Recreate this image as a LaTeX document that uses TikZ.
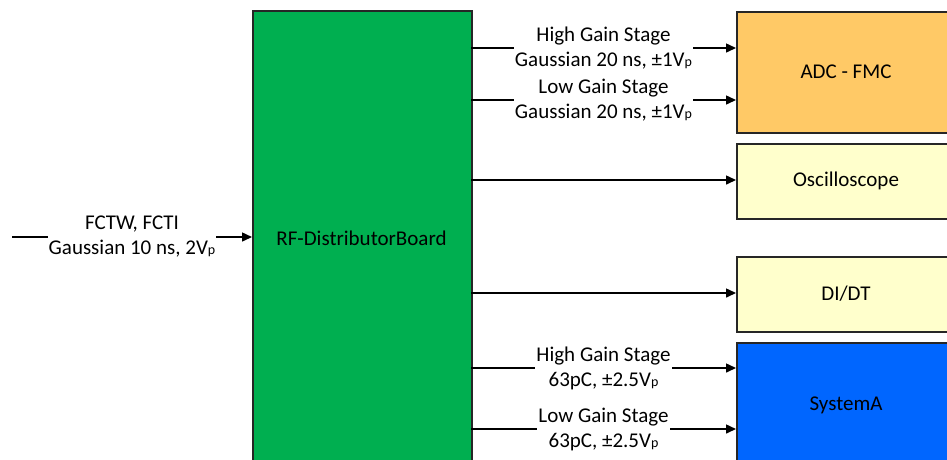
\documentclass[tikz,border=0pt]{standalone}
\usepackage{fontspec}
\setmainfont{Carlito}
\usetikzlibrary{arrows.meta}

\definecolor{boardgreen}{HTML}{00AF50}
\definecolor{adcorange}{HTML}{FFC966}
\definecolor{paleyellow}{HTML}{FFFFCC}
\definecolor{sysblue}{HTML}{0066FF}
\definecolor{edgegray}{HTML}{262626}

\tikzset{
  block/.style={draw=edgegray, line width=1.5pt, anchor=north west, inner sep=0pt,
    font=\fontsize{21}{25}\selectfont},
  blocktext/.style={font=\fontsize{21}{25}\selectfont},
  sig/.style={line width=1.5pt, -{Triangle[length=10pt,width=9pt]}},
  siglabel/.style={fill=white, inner xsep=1pt, inner ysep=0pt, align=center,
    font=\fontsize{21}{25}\selectfont},
}
\newcommand{\Vp}{V{\fontsize{14}{14}\selectfont p}}

\begin{document}
\begin{tikzpicture}[x=1pt, y=-1pt]
  \useasboundingbox (0,0) rectangle (947,459);
  \clip (0,0) rectangle (947,459);

  % distributor board and receiving blocks
  \node[block, fill=boardgreen, minimum width=219pt, minimum height=456pt] (rf) at (252,10) {};
  \node[blocktext] at (361.5,238) {RF-DistributorBoard};

  \node[block, fill=adcorange, minimum width=222pt, minimum height=121pt] (adc) at (736,11) {};
  \node[blocktext] at (846,72) {ADC - FMC};

  \node[block, fill=paleyellow, minimum width=222pt, minimum height=75pt] (osc) at (736,143) {};
  \node[blocktext] at (846,181) {Oscilloscope};

  \node[block, fill=paleyellow, minimum width=222pt, minimum height=75pt] (didt) at (736,256) {};
  \node[blocktext] at (846,294) {DI/DT};

  \node[block, fill=sysblue, minimum width=222pt, minimum height=126pt] (sys) at (736,342) {};
  \node[blocktext] at (846,405) {SystemA};

  % input from the current transformers
  \coordinate (src) at (12,237);
  \draw[sig] (src) -- (src -| rf.west)
    node[midway, siglabel] {FCTW, FCTI\\Gaussian 10 ns, 2\Vp};

  % outputs of the board
  \coordinate (o1) at (471,48);
  \coordinate (o2) at (471,100);
  \coordinate (o3) at (471,180);
  \coordinate (o4) at (471,293);
  \coordinate (o5) at (471,368);
  \coordinate (o6) at (471,429);

  \draw[sig] (o1) -- (o1 -| adc.west)
    node[midway, siglabel] {High Gain Stage\\Gaussian 20 ns, ±1\Vp};
  \draw[sig] (o2) -- (o2 -| adc.west)
    node[midway, siglabel] {Low Gain Stage\\Gaussian 20 ns, ±1\Vp};
  \draw[sig] (o3) -- (o3 -| osc.west);
  \draw[sig] (o4) -- (o4 -| didt.west);
  \draw[sig] (o5) -- (o5 -| sys.west)
    node[midway, siglabel] {High Gain Stage\\63pC, ±2.5\Vp};
  \draw[sig] (o6) -- (o6 -| sys.west)
    node[midway, siglabel] {Low Gain Stage\\63pC, ±2.5\Vp};
\end{tikzpicture}
\end{document}
